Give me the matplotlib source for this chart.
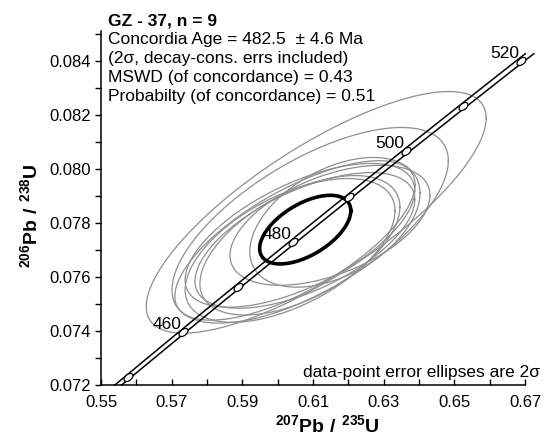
#!/usr/bin/env python3
"""Concordia diagram for sample GZ-37."""

import matplotlib

matplotlib.use("Agg")
import matplotlib.pyplot as plt
import numpy as np
from matplotlib.markers import MarkerStyle
from matplotlib.transforms import Affine2D

# decay constants (1/yr)
LAMBDA238 = 1.55125e-10
LAMBDA235 = 9.8485e-10
LAMBDA235_REL_ERR = 0.0014

# data-point error ellipses (2 sigma half extents)
x_center = [0.6109, 0.6092, 0.6063, 0.6077, 0.6063, 0.6035, 0.6162, 0.6148, 0.6049]
y_center = [0.07839, 0.07791, 0.07754, 0.07735, 0.07717, 0.07698, 0.07802, 0.07791, 0.07735]
x_err = [0.0481, 0.0391, 0.0325, 0.0311, 0.0283, 0.0297, 0.0241, 0.0283, 0.0340]
y_err = [0.00447, 0.00362, 0.00266, 0.00251, 0.00258, 0.00266, 0.00240, 0.00222, 0.00295]
rho = [0.78, 0.66, 0.62, 0.60, 0.55, 0.55, 0.45, 0.50, 0.70]

# concordia age ellipse
age_x, age_y = 0.6078, 0.07775
age_x_err, age_y_err, age_rho = 0.0129, 0.00127, 0.55

marker_ages = [450, 460, 470, 480, 490, 500, 510, 520]
labelled_ages = [460, 480, 500, 520]
end_age = 521.5

info_title = "GZ - 37, n = 9"
info_lines = [
    "Concordia Age = 482.5  \u00b1 4.6 Ma",
    "(2\u03c3, decay-cons. errs included)",
    "MSWD (of concordance) = 0.43",
    "Probabilty (of concordance) = 0.51",
]

plt.rcParams["font.family"] = ["Liberation Sans", "DejaVu Sans"]
plt.rcParams["mathtext.fontset"] = "custom"
plt.rcParams["mathtext.rm"] = "Liberation Sans"
plt.rcParams["mathtext.bf"] = "Liberation Sans:bold"


def concordia(age_ma, l235=LAMBDA235):
    t = np.asarray(age_ma) * 1e6
    return np.exp(l235 * t) - 1, np.exp(LAMBDA238 * t) - 1


def ellipse_xy(cx, cy, sx, sy, r, n=200):
    a = np.linspace(0, 2 * np.pi, n)
    x = cx + sx * np.cos(a)
    y = cy + sy * (r * np.cos(a) + np.sqrt(1 - r**2) * np.sin(a))
    return x, y


W, H = 550, 436
fig = plt.figure(figsize=(W / 100, H / 100), dpi=100)
ax = fig.add_axes([101 / W, 51 / H, 424 / W, 354 / H])

ymin, ymax = 0.072, 0.0851

# data-point ellipses
for cx, cy, sx, sy, r in zip(x_center, y_center, x_err, y_err, rho):
    ex, ey = ellipse_xy(cx, cy, sx, sy, r)
    ax.plot(ex, ey, color="#8f8f8f", lw=0.9, zorder=2)

# concordia band, starting where it meets the bottom axis
start_age = np.log(1 + ymin) / LAMBDA238 / 1e6
ages = np.linspace(start_age, end_age, 300)
for sign in (-1, 1):
    cx_, cy_ = concordia(ages, LAMBDA235 * (1 + sign * LAMBDA235_REL_ERR))
    ax.plot(cx_, cy_, color="black", lw=1.1, zorder=3, clip_on=False)

# concordia age ellipse
ex, ey = ellipse_xy(age_x, age_y, age_x_err, age_y_err, age_rho)
ax.plot(ex, ey, color="black", lw=2.6, zorder=4)

# age markers
mx, my = concordia(marker_ages)
mstyle = MarkerStyle("o", transform=Affine2D().scale(1.35, 0.8).rotate_deg(39))
ax.plot(mx, my, linestyle="none", marker=mstyle, markersize=5.5,
        markerfacecolor="white", markeredgecolor="black", markeredgewidth=0.9,
        zorder=5, clip_on=False)
for age in labelled_ages:
    lx, ly = concordia(age)
    ax.annotate(str(age), (lx, ly), xytext=(-1, 2), textcoords="offset points",
                ha="right", va="baseline", fontsize=12.5, zorder=6)

ax.set_xlim(0.55, 0.67)
ax.set_ylim(ymin, ymax)
ax.set_xticks(np.arange(0.55, 0.6701, 0.02))
ax.set_xticks(np.arange(0.56, 0.67, 0.02), minor=True)
ax.set_yticks(np.arange(0.072, 0.0841, 0.002))
ax.set_yticks(np.arange(0.073, 0.0851, 0.002), minor=True)
ax.xaxis.set_major_formatter(plt.FormatStrFormatter("%.2f"))
ax.yaxis.set_major_formatter(plt.FormatStrFormatter("%.3f"))
ax.tick_params(axis="x", which="both", direction="in", length=4, width=1,
               labelsize=12, pad=7)
ax.tick_params(axis="y", which="both", direction="out", length=4, width=1,
               labelsize=12, pad=3)
for side in ("top", "right"):
    ax.spines[side].set_visible(False)
for side in ("left", "bottom"):
    ax.spines[side].set_linewidth(1.1)

# axis labels
fig.text(327 / W, 1 - 432 / H, r"$\mathbf{^{207}Pb\ /\ ^{235}U}$",
         ha="center", va="baseline", fontsize=14)
fig.text(30 / W, 1 - 216 / H, r"$\mathbf{^{206}Pb\ /\ ^{238}U}$",
         ha="center", va="center", rotation=90, fontsize=14)

# info block
fig.text(108 / W, 1 - 25 / H, info_title, fontsize=12.5, fontweight="bold",
         va="baseline")
for i, line in enumerate(info_lines):
    fig.text(108 / W, 1 - (44 + 19 * i) / H, line, fontsize=12.5, va="baseline")

fig.text(540 / W, 1 - 377 / H, "data-point error ellipses are 2\u03c3",
         ha="right", va="baseline", fontsize=12.5)

fig.savefig("out.png", dpi=100)
